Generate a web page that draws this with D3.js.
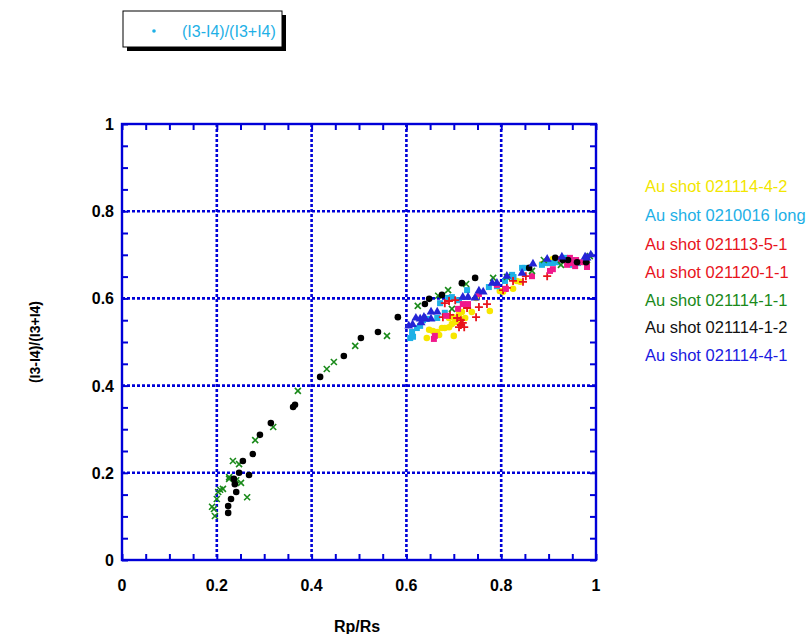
<!DOCTYPE html>
<html>
<head>
<meta charset="utf-8">
<script src="https://cdn.jsdelivr.net/npm/d3@7"></script>
<style>
body { margin: 0; background: #fff; }
text { font-family: Arial, "Liberation Sans", sans-serif; }
</style>
</head>
<body>
<div id="chart"></div>
<script>
// series: [Rp/Rs, (I3-I4)/(I3+I4)]
var yellowPts = [[0.643,0.509],[0.648,0.528],[0.656,0.525],[0.665,0.523],[0.669,0.516],[0.675,0.532],[0.681,0.532],
  [0.690,0.534],[0.696,0.541],[0.700,0.514],[0.703,0.546],[0.690,0.555],[0.698,0.557],[0.713,0.550],[0.711,0.564],
  [0.717,0.569],[0.724,0.555],[0.738,0.569],[0.747,0.601],[0.776,0.571],[0.797,0.617],[0.804,0.615],[0.825,0.622],
  [0.833,0.640],[0.840,0.638],[0.886,0.679],[0.897,0.681],[0.909,0.690],[0.939,0.688]];
var cyanPts = [[0.608,0.509],[0.614,0.512],[0.612,0.523],[0.622,0.532],[0.629,0.537],[0.635,0.550],[0.643,0.553],
  [0.665,0.555],[0.671,0.589],[0.681,0.567],[0.688,0.601],[0.696,0.603],[0.711,0.596],[0.728,0.619],[0.774,0.626],
  [0.791,0.628],[0.808,0.640],[0.823,0.654],[0.826,0.649],[0.844,0.670],[0.850,0.670],[0.886,0.677],[0.897,0.681],
  [0.909,0.681],[0.918,0.683],[0.935,0.693],[0.949,0.688],[0.951,0.677],[0.962,0.681]];
var redPts = [[0.681,0.589],[0.690,0.594],[0.703,0.596],[0.677,0.557],[0.692,0.562],[0.707,0.555],[0.715,0.550],
  [0.719,0.544],[0.711,0.534],[0.715,0.539],[0.722,0.534],[0.728,0.578],[0.747,0.557],[0.753,0.580],[0.770,0.587],
  [0.804,0.619],[0.812,0.624],[0.825,0.640],[0.846,0.638],[0.852,0.651],[0.897,0.651]];
var pinkPts = [[0.658,0.507],[0.660,0.514],[0.684,0.560],[0.709,0.576],[0.719,0.587],[0.730,0.587],[0.753,0.610],
  [0.791,0.631],[0.810,0.622],[0.865,0.651],[0.903,0.663],[0.909,0.667],[0.926,0.690],[0.939,0.677],[0.945,0.681],
  [0.945,0.693],[0.956,0.674],[0.958,0.688],[0.970,0.683],[0.981,0.672],[0.981,0.681]];
var greenPts = [[0.190,0.122],[0.194,0.117],[0.196,0.101],[0.200,0.140],[0.207,0.161],[0.213,0.163],[0.203,0.156],
  [0.226,0.190],[0.226,0.186],[0.241,0.183],[0.251,0.177],[0.264,0.144],[0.234,0.227],[0.247,0.220],[0.281,0.275],
  [0.319,0.305],[0.371,0.388],[0.432,0.438],[0.447,0.454],[0.492,0.491],[0.559,0.514],[0.624,0.583],[0.667,0.606],
  [0.688,0.619],[0.696,0.576],[0.726,0.633],[0.783,0.647],[0.812,0.649],[0.865,0.663],[0.890,0.688],[0.926,0.677],
  [0.981,0.688],[0.987,0.697]];
var blackPts = [[0.224,0.108],[0.224,0.124],[0.230,0.140],[0.241,0.156],[0.238,0.174],[0.236,0.186],[0.247,0.200],
  [0.268,0.195],[0.255,0.227],[0.276,0.243],[0.291,0.287],[0.314,0.314],[0.361,0.351],[0.365,0.356],[0.418,0.420],
  [0.468,0.468],[0.504,0.509],[0.540,0.523],[0.582,0.557],[0.639,0.587],[0.648,0.599],[0.675,0.608],[0.717,0.635],
  [0.745,0.647],[0.859,0.670],[0.914,0.693],[0.930,0.688],[0.941,0.688],[0.960,0.683],[0.979,0.683]];
var bluePts = [[0.605,0.537],[0.613,0.540],[0.629,0.553],[0.640,0.553],[0.652,0.569],[0.665,0.569],[0.652,0.553],
  [0.631,0.544],[0.620,0.555],[0.637,0.557],[0.719,0.603],[0.730,0.603],[0.745,0.601],[0.753,0.617],[0.762,0.615],
  [0.781,0.635],[0.791,0.635],[0.812,0.651],[0.844,0.658],[0.867,0.679],[0.897,0.690],[0.928,0.695],[0.977,0.695],
  [0.981,0.693],[0.989,0.700]];

var seriesNames = ["Au shot 021114-4-2","Au shot 0210016 long","Au shot 021113-5-1","Au shot 021120-1-1",
  "Au shot 021114-1-1","Au shot 021114-1-2","Au shot 021114-4-1"];
var seriesData = [yellowPts, cyanPts, redPts, pinkPts, greenPts, blackPts, bluePts];
var textColors = ["#f2e600","#1eb0e6","#e8141c","#e8141c","#1a8a1a","#111111","#1a1ae0"];
var markColors = ["#f7e600","#1eb0e6","#e8141c","#f0198c","#1a8a1a","#000000","#2424d6"];
var markTypes = ["circle","square","plus","square","x","circle","triangle"];
var xTicks = [0,0.2,0.4,0.6,0.8,1];
var yTicks = [0,0.2,0.4,0.6,0.8,1];
var topLegend = "(I3-I4)/(I3+I4)";

var W = 812, H = 634;
var margin = {left: 122, top: 124, right: 216, bottom: 74};
var w = W - margin.left - margin.right, h = H - margin.top - margin.bottom;
var axisBlue = "#0000d8";

var svg = d3.select("#chart").append("svg").attr("width", W).attr("height", H);

var xScale = d3.scaleLinear().domain([0,1]).range([0,w]);
var yScale = d3.scaleLinear().domain([0,1]).range([h,0]);

var g = svg.append("g").attr("transform","translate(" + margin.left + "," + margin.top + ")");

// grid
g.append("g").selectAll("line").data(xTicks.slice(1,-1)).enter().append("line")
  .attr("x1", function(d){ return xScale(d); }).attr("x2", function(d){ return xScale(d); })
  .attr("y1", 0).attr("y2", h)
  .attr("stroke", axisBlue).attr("stroke-width", 2.6).attr("stroke-dasharray", "3,2");
g.append("g").selectAll("line").data(yTicks.slice(1,-1)).enter().append("line")
  .attr("y1", function(d){ return yScale(d); }).attr("y2", function(d){ return yScale(d); })
  .attr("x1", 0).attr("x2", w)
  .attr("stroke", axisBlue).attr("stroke-width", 2.6).attr("stroke-dasharray", "3,2");

// axes with inward ticks, on all four sides
var minor = d3.range(0, 1.0001, 0.05);
function styleAxis(sel){
  sel.select(".domain").remove();
  sel.selectAll("line").attr("stroke", axisBlue).attr("stroke-width", 2);
  sel.selectAll("text").remove();
}
g.append("g").attr("transform","translate(0," + h + ")")
  .call(d3.axisTop(xScale).tickValues(minor).tickSize(6)).call(styleAxis);
g.append("g").call(d3.axisBottom(xScale).tickValues(minor).tickSize(6)).call(styleAxis);
g.append("g").call(d3.axisRight(yScale).tickValues(minor).tickSize(6)).call(styleAxis);
g.append("g").attr("transform","translate(" + w + ",0)")
  .call(d3.axisLeft(yScale).tickValues(minor).tickSize(6)).call(styleAxis);

g.append("rect").attr("x",0).attr("y",0).attr("width",w).attr("height",h)
  .attr("fill","none").attr("stroke",axisBlue).attr("stroke-width",2.4);

// tick labels
g.append("g").selectAll("text").data(xTicks).enter().append("text")
  .attr("x", function(d){ return xScale(d); }).attr("y", h + 31)
  .attr("text-anchor","middle").attr("font-size",16).attr("font-weight","bold")
  .text(function(d){ return d3.format("")(d); });
g.append("g").selectAll("text").data(yTicks).enter().append("text")
  .attr("x", -8).attr("y", function(d){ return yScale(d) + 6; })
  .attr("text-anchor","end").attr("font-size",16).attr("font-weight","bold")
  .text(function(d){ return d3.format("")(d); });

svg.append("text").attr("x", margin.left + w/2 - 2).attr("y", 632)
  .attr("text-anchor","middle").attr("font-size",16).attr("font-weight","bold").text("Rp/Rs");
svg.append("text").attr("transform","translate(40," + (margin.top + h/2) + ") rotate(-90)")
  .attr("text-anchor","middle").attr("font-size",14).attr("font-weight","bold").text("(I3-I4)/(I3+I4)");

// markers
var xPath = "M-3,-3L3,3M-3,3L3,-3";
var marks = g.append("g");
seriesData.forEach(function(pts, i){
  var type = markTypes[i], col = markColors[i];
  var sel = marks.append("g").selectAll("path").data(pts).enter().append("path")
    .attr("transform", function(d){ return "translate(" + xScale(d[0]) + "," + yScale(d[1]) + ")"; });
  if(type == "circle"){
    sel.attr("d", d3.symbol().type(d3.symbolCircle).size(34)).attr("fill", col);
  } else if(type == "square"){
    sel.attr("d", d3.symbol().type(d3.symbolSquare).size(36)).attr("fill", col);
  } else if(type == "triangle"){
    sel.attr("d", d3.symbol().type(d3.symbolTriangle).size(34)).attr("fill", col);
  } else if(type == "plus"){
    sel.attr("d", "M-4,0L4,0M0,-4L0,4").attr("stroke", col).attr("stroke-width", 1.8).attr("fill","none");
  } else {
    sel.attr("d", xPath).attr("stroke", col).attr("stroke-width", 1.6).attr("fill","none");
  }
});

// right legend (text only)
svg.append("g").selectAll("text").data(seriesNames).enter().append("text")
  .attr("x", 645).attr("y", function(d,i){ return [192,221,250,278,306,333,361][i]; })
  .attr("font-size", 16.5).attr("fill", function(d,i){ return textColors[i]; })
  .text(function(d){ return d; });

// top legend box with shadow
var lg = svg.append("g");
lg.append("rect").attr("x",127).attr("y",15).attr("width",159).attr("height",36).attr("fill","#000");
lg.append("rect").attr("x",123).attr("y",11).attr("width",159).attr("height",36)
  .attr("fill","#fff").attr("stroke","#000").attr("stroke-width",1);
lg.append("circle").attr("cx",154).attr("cy",31).attr("r",1.8).attr("fill","#1eb0e6");
lg.append("text").attr("x",182).attr("y",37).attr("font-size",16).attr("fill","#1eb0e6").text(topLegend);
</script>
</body>
</html>
